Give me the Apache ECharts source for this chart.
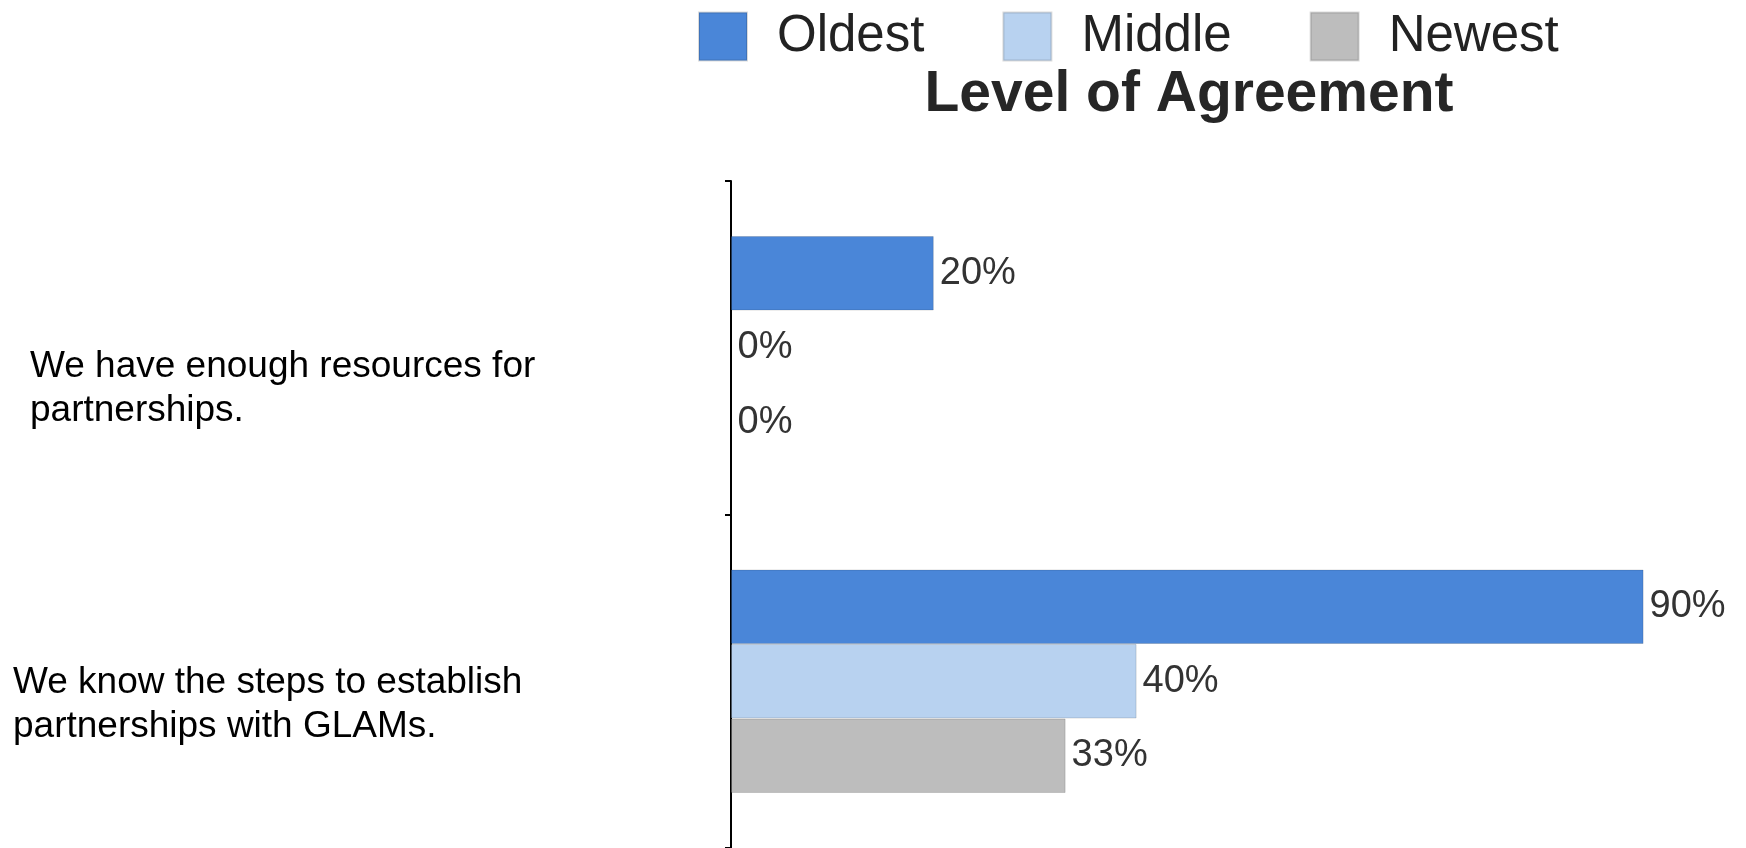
<!DOCTYPE html>
<html>
<head>
<meta charset="utf-8">
<title>Level of Agreement</title>
<script src="https://cdn.jsdelivr.net/npm/echarts@6/dist/echarts.min.js"></script>
<style>
  html, body { margin: 0; padding: 0; background: #fff; }
  #chart { width: 1746px; height: 848px; }
</style>
</head>
<body>
<div id="chart"></div>
<script>
// statements, top to bottom
const categories = [
  'We have enough resources for\npartnerships.',
  'We know the steps to establish\npartnerships with GLAMs.'
];
const seriesNames = ['Oldest', 'Middle', 'Newest'];
const oldest = [20, 90];
const middle = [0, 40];
const newest = [0, 33];

const colors = ['#4a86d8', '#b8d2f0', '#bdbdbd'];
const font = '"Liberation Sans", Arial, Helvetica, sans-serif';

const chart = echarts.init(document.getElementById('chart'));

// each category label is its own text box in the original, so shift them a bit
const labelStyles = [
  { sp: 'sp0', line: 'l0' },
  { sp: 'sp1', line: 'l1' }
];

const barSeries = (name, data, color) => ({
  name: name,
  type: 'bar',
  data: data,
  barGap: '0%',
  barCategoryGap: '33%',
  itemStyle: {
    color: color,
    borderColor: 'rgba(0, 0, 0, 0.14)',
    borderWidth: 1
  },
  label: {
    show: true,
    position: 'right',
    distance: 6,
    formatter: '{c}%',
    fontFamily: font,
    fontSize: 38,
    color: '#333'
  }
});

const option = {
  animation: false,
  textStyle: { fontFamily: font },
  title: {
    text: 'Level of Agreement',
    left: 1189,
    top: 67,
    padding: 0,
    textAlign: 'center',
    textStyle: {
      fontFamily: font,
      fontSize: 57,
      fontWeight: 'bold',
      color: '#262626'
    }
  },
  legend: {
    data: seriesNames,
    left: 698,
    top: 11,
    padding: 0,
    icon: 'rect',
    itemWidth: 48,
    itemHeight: 48,
    itemGap: 78,
    textStyle: {
      fontFamily: font,
      fontSize: 51,
      color: '#222',
      padding: [0, 0, 0, 25]
    }
  },
  grid: {
    left: 731,
    right: 1,
    top: 181,
    bottom: 0,
    containLabel: false
  },
  xAxis: {
    type: 'value',
    min: 0,
    max: 100,
    show: false
  },
  yAxis: {
    type: 'category',
    data: categories,
    inverse: true,
    axisLine: { show: true, lineStyle: { color: '#000', width: 2 } },
    axisTick: { show: true, length: 6, lineStyle: { color: '#000', width: 2 } },
    axisLabel: {
      align: 'left',
      margin: 718,
      formatter: function (value, index) {
        const s = labelStyles[index];
        const lines = value.split('\n').map(t => '{' + s.line + '|' + t + '}');
        return '{' + s.sp + '| }\n' + lines.join('\n');
      },
      rich: {
        sp0: { fontSize: 1, lineHeight: 82 },
        sp1: { fontSize: 1, lineHeight: 48 },
        l0: { fontFamily: font, fontSize: 37, lineHeight: 44, color: '#000', padding: [0, 0, 0, 17] },
        l1: { fontFamily: font, fontSize: 37, lineHeight: 44, color: '#000' }
      }
    }
  },
  series: [
    barSeries(seriesNames[0], oldest, colors[0]),
    barSeries(seriesNames[1], middle, colors[1]),
    barSeries(seriesNames[2], newest, colors[2])
  ]
};

chart.setOption(option);
</script>
</body>
</html>
